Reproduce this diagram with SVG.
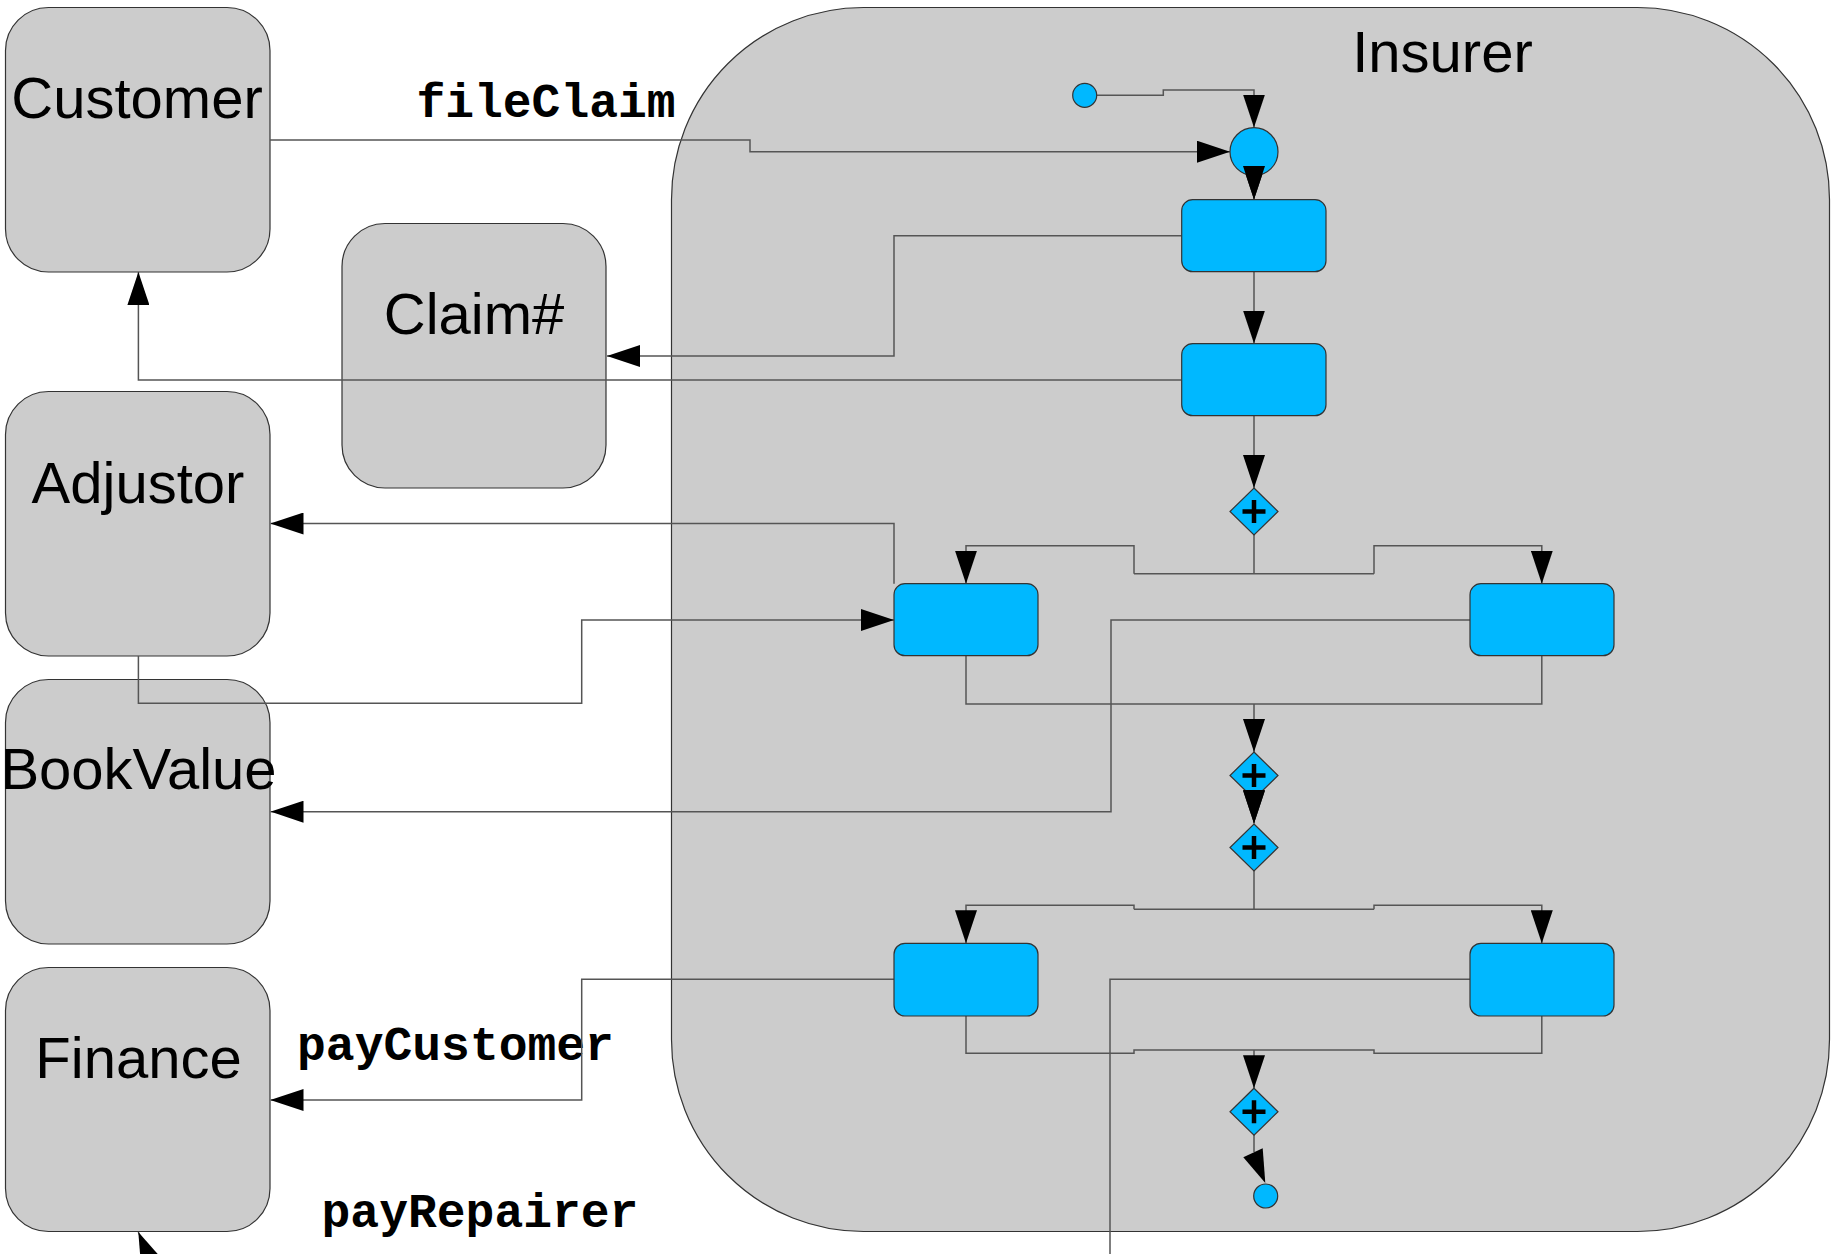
<svg xmlns="http://www.w3.org/2000/svg" width="1835" height="1254" viewBox="0 0 1835 1254">
  <style>
    .pool { fill: #cccccc; stroke: #333333; stroke-width: 1.2; }
    .task { fill: #00b8ff; stroke: #333333; stroke-width: 1.2; }
    .gw { fill: #00b8ff; stroke: #333333; stroke-width: 1.2; }
    .plus { stroke: #000000; stroke-width: 4.5; fill: none; }
    .lbl { font-family: "Liberation Sans", Arial, sans-serif; font-size: 58px; fill: #000000; text-anchor: middle; }
    .msg { font-family: "Liberation Mono", "Courier New", monospace; font-size: 48px; font-weight: bold; fill: #000000; text-anchor: middle; }
    .flow { fill: none; stroke: #555555; stroke-width: 1.5; }
    .head { fill: #000000; stroke: none; }
  </style>
  <defs>
    <marker id="arrow" viewBox="0 0 33 22" refX="33" refY="11" markerWidth="33" markerHeight="22" markerUnits="userSpaceOnUse" orient="auto">
      <path class="head" d="M0,0 L33,11 L0,22 Z"/>
    </marker>
    <g id="gateway">
      <path class="gw" d="M0,-23.5 L24,0 L0,23.5 L-24,0 Z"/>
      <path class="plus" d="M-11.5,0 H11.5 M0,-11.5 V11.5"/>
    </g>
  </defs>

  <rect width="1835" height="1254" fill="#ffffff"/>

  <!-- participant pools -->
  <g id="customer">
    <rect class="pool" x="5.5" y="7.5" width="264.5" height="264.5" rx="43" ry="43"/>
    <text class="lbl" x="137" y="118">Customer</text>
  </g>
  <g id="claimno">
    <rect class="pool" x="342" y="223.5" width="264" height="264.5" rx="43" ry="43"/>
    <text class="lbl" x="474" y="334">Claim#</text>
  </g>
  <g id="adjustor">
    <rect class="pool" x="5.5" y="391.5" width="264.5" height="264.5" rx="43" ry="43"/>
    <text class="lbl" x="138" y="502.5">Adjustor</text>
  </g>
  <g id="bookvalue">
    <rect class="pool" x="5.5" y="679.5" width="264.5" height="264.5" rx="43" ry="43"/>
    <text class="lbl" x="138.5" y="789">BookValue</text>
  </g>
  <g id="finance">
    <rect class="pool" x="5.5" y="967.5" width="264.5" height="264" rx="43" ry="43"/>
    <text class="lbl" x="138.5" y="1077.5">Finance</text>
  </g>
  <g id="insurer">
    <rect class="pool" x="671.5" y="7.5" width="1158" height="1224" rx="192" ry="192"/>
    <text class="lbl" x="1442.5" y="71.5">Insurer</text>
  </g>

  <!-- message labels -->
  <g id="labels">
    <text class="msg" x="546" y="117">fileClaim</text>
    <text class="msg" x="455.5" y="1060">payCustomer</text>
    <text class="msg" x="480" y="1226.5">payRepairer</text>
  </g>

  <!-- connectors -->
  <g id="connectors">
    <path class="flow" d="M1096.7,95.3 H1163.3 V90 H1254 V127.5" marker-end="url(#arrow)"/>
    <path class="flow" d="M270,140 H750 V151.7 H1230" marker-end="url(#arrow)"/>
    <path class="flow" d="M1254,170 V199.5" marker-end="url(#arrow)"/>
    <path class="flow" d="M1181.7,235.7 H894 V356 H607" marker-end="url(#arrow)"/>
    <path class="flow" d="M1254,271.7 V343.5" marker-end="url(#arrow)"/>
    <path class="flow" d="M1181.7,380 H138.4 V272" marker-end="url(#arrow)"/>
    <path class="flow" d="M1254,415.7 V488" marker-end="url(#arrow)"/>

    <!-- first split -->
    <path class="flow" d="M1254,535 V573.7 M1134,573.7 H1374"/>
    <path class="flow" d="M1134,573.7 V545.7 H966 V583.7" marker-end="url(#arrow)"/>
    <path class="flow" d="M1374,573.7 V545.7 H1541.8 V583.7" marker-end="url(#arrow)"/>

    <path class="flow" d="M894,583.7 V523.5 H270.5" marker-end="url(#arrow)"/>
    <path class="flow" d="M138.4,656 V703.3 H581.7 V620 H894" marker-end="url(#arrow)"/>
    <path class="flow" d="M1470,620 H1111 V811.7 H270.5" marker-end="url(#arrow)"/>

    <!-- first join -->
    <path class="flow" d="M966,655.7 V704 H1541.8 V655.7"/>
    <path class="flow" d="M1254,704 V752" marker-end="url(#arrow)"/>
    <path class="flow" d="M1254,799 V823.5" marker-end="url(#arrow)"/>

    <!-- second split -->
    <path class="flow" d="M1254,871 V909.3 M1134,909.3 H1374"/>
    <path class="flow" d="M1134,909.3 V905.3 H966 V943.3" marker-end="url(#arrow)"/>
    <path class="flow" d="M1374,909.3 V905.3 H1541.8 V943.3" marker-end="url(#arrow)"/>

    <path class="flow" d="M894,979.3 H581.7 V1100 H270.5" marker-end="url(#arrow)"/>
    <path class="flow" d="M1470,979.3 H1110 V1254"/>

    <!-- second join -->
    <path class="flow" d="M966,1016 V1053.3 H1134 V1050 H1374 V1053.3 H1541.8 V1016"/>
    <path class="flow" d="M1254,1050 V1088.3" marker-end="url(#arrow)"/>

    <path class="flow" d="M1254,1135 V1152"/>
    <path class="head" d="M1243.3,1157.3 L1262.7,1148.3 L1265.3,1183 Z"/>

    <!-- incoming from below the frame -->
    <path class="flow" d="M138.3,1232 L151,1262"/>
    <path class="head" d="M138.3,1232 L161.3,1258.1 L141.1,1266.7 Z"/>
  </g>

  <!-- process elements -->
  <g id="start">
    <circle class="task" cx="1084.7" cy="95.3" r="12"/>
  </g>
  <g id="receive">
    <circle class="task" cx="1254" cy="151.7" r="24"/>
  </g>
  <g id="task1">
    <rect class="task" x="1181.7" y="199.7" width="144.3" height="72" rx="11" ry="11"/>
  </g>
  <g id="task2">
    <rect class="task" x="1181.7" y="343.7" width="144.3" height="72" rx="11" ry="11"/>
  </g>
  <g id="task3">
    <rect class="task" x="894" y="583.7" width="144" height="72" rx="11" ry="11"/>
  </g>
  <g id="task4">
    <rect class="task" x="1470" y="583.7" width="144" height="72" rx="11" ry="11"/>
  </g>
  <g id="task5">
    <rect class="task" x="894" y="943.3" width="144" height="72.7" rx="11" ry="11"/>
  </g>
  <g id="task6">
    <rect class="task" x="1470" y="943.3" width="144" height="72.7" rx="11" ry="11"/>
  </g>
  <g id="split1"><use href="#gateway" x="1254" y="511.5"/></g>
  <g id="join1"><use href="#gateway" x="1254" y="775.5"/></g>
  <g id="split2"><use href="#gateway" x="1254" y="847.5"/></g>
  <g id="join2"><use href="#gateway" x="1254" y="1111.7"/></g>
  <g id="end">
    <circle class="task" cx="1265.7" cy="1196" r="12"/>
  </g>

  <!-- arrowheads that sit over the shapes they touch -->
  <g id="overlays">
    <path class="head" d="M1243,166 L1265,166 L1254,199.5 Z"/>
    <path class="head" d="M1243,790 L1265,790 L1254,823.5 Z"/>
  </g>
</svg>
